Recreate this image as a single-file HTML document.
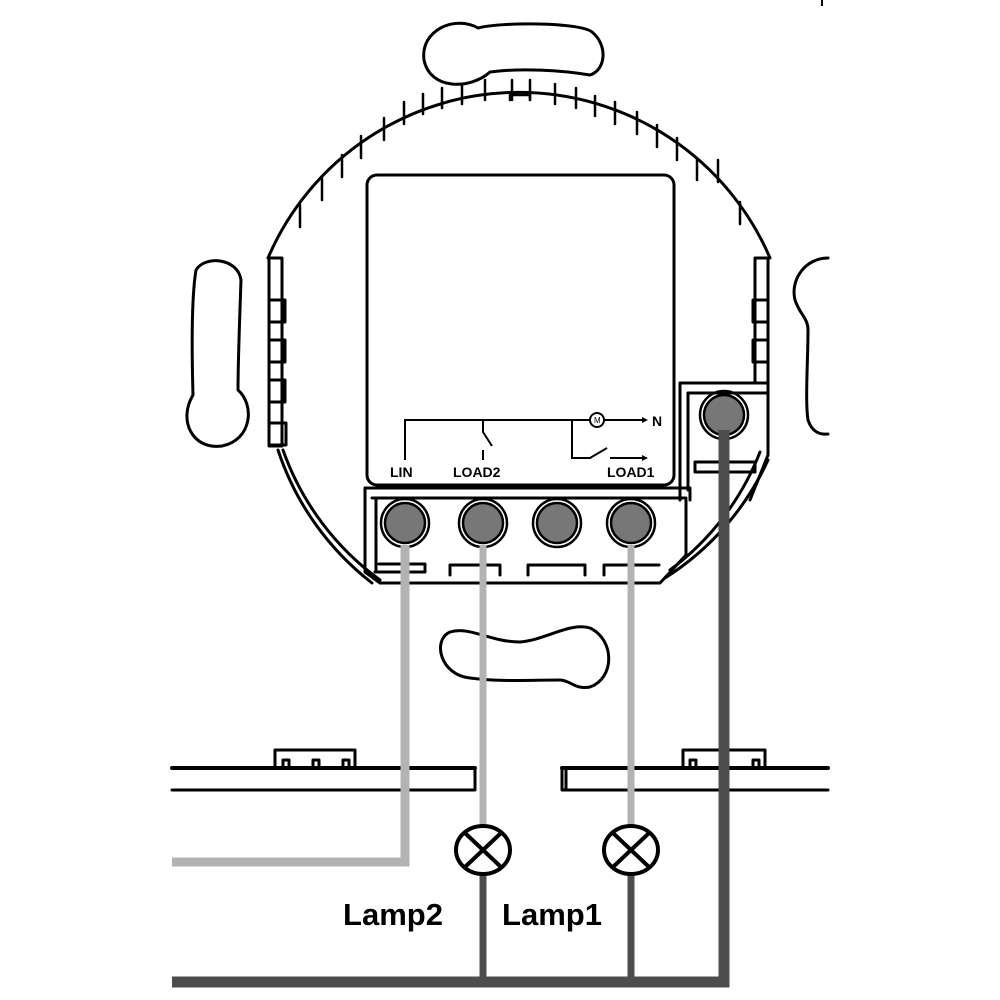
<!DOCTYPE html>
<html><head><meta charset="utf-8"><style>html,body{margin:0;padding:0;background:#fff}svg{display:block}</style></head>
<body>
<svg width="1000" height="1000" viewBox="0 0 1000 1000" xmlns="http://www.w3.org/2000/svg">
<g fill="none" stroke="#000" stroke-width="3" stroke-linejoin="round" stroke-linecap="round">
<!-- top slot -->
<path d="M478,28 C500,22 580,22 592,32 C608,45 606,70 590,75 C560,70 520,68 490,72 C470,90 430,90 424,60 C420,30 455,15 478,28 Z"/>
<!-- bottom slot -->
<path d="M520,642 C545,640 570,622 590,628 C615,640 615,678 590,687 C575,690 570,680 560,680 C530,680 500,682 470,678 C440,675 432,640 450,632 C470,626 490,642 520,642 Z"/>
<!-- left slot -->
<path d="M196,270 C205,255 238,258 241,280 C240,310 238,360 238,390 C255,405 252,440 222,446 C192,450 178,420 193,395 C192,360 191,300 196,270 Z"/>
<!-- right slot partial -->
<path d="M828,258 C805,258 790,280 795,300 C800,315 808,318 808,330 C808,360 805,400 808,420 C812,432 820,435 828,434"/>
<!-- circle arc -->
<path d="M268,258 A273,273 0 0 1 770,258"/>
<path d="M283,450 A273,273 0 0 0 380,580"/>
<path d="M278,450 A278,278 0 0 0 372,583"/>
<path d="M768,460 A273,273 0 0 1 665,578"/>
<path d="M760,452 A268,268 0 0 1 670,570"/>
<!-- teeth -->
<g stroke-width="2.5">
<path d="M300,205 l0,22 M322,178 l0,22 M342,155 l0,22 M361,136 l0,22 M384,118 l0,22 M404,102 l0,22 M423,94 l0,20 M442,88 l0,20 M462,84 l0,20 M485,80 l0,20 M512,80 l0,20 M530,80 l0,20 M555,84 l0,20 M576,88 l0,20 M595,96 l0,20 M615,102 l0,22 M637,112 l0,22 M657,125 l0,22 M677,138 l0,22 M697,158 l0,22 M718,160 l0,22 M740,202 l0,22"/>
<path d="M510,100 l0,-5 l20,0 l0,5"/>
</g>
<!-- side strips -->
<rect x="269" y="258" width="13" height="188"/>
<rect x="269" y="300" width="16" height="22"/><rect x="269" y="340" width="16" height="22"/><rect x="269" y="380" width="16" height="22"/><rect x="269" y="423" width="17" height="22"/>
<rect x="755" y="258" width="13" height="125"/>
<rect x="753" y="300" width="15" height="22"/><rect x="753" y="340" width="15" height="22"/>
<!-- inner module -->
<rect x="367" y="175" width="307" height="310" rx="10"/>
<!-- terminal block -->
<path d="M365,488 L690,488 L690,500 M365,488 L365,572 L380,583 L660,583 L686,555 L686,500 M372,498 L686,498 M376,498 L376,570"/>
<path d="M375,572 h50 v-8 h-46 M450,575 v-10 h50 v10 M528,575 v-10 h57 v10 M604,575 v-10 h55"/>
<!-- right block -->
<path d="M680,383 L768,383 L768,455 L750,500 M680,383 L680,500 M688,393 L768,393 M688,393 L688,490 M695,462 L755,462 L755,472 L695,472 Z"/>
<!-- plates -->
<g stroke-width="4"><path d="M172,768 L475,768 M562,768 L828,768"/></g>
<path d="M172,790 L475,790 L475,768 M562,768 L562,790 L828,790 M566,770 L566,790"/>
<path d="M275,768 v-18 h80 v18 M283,768 v-8 h6 v8 M313,768 v-8 h6 v8 M343,768 v-8 h6 v8"/>
<path d="M683,768 v-18 h82 v18 M690,768 v-8 h6 v8 M753,768 v-8 h6 v8"/>
</g>
<!-- terminals -->
<g stroke="#000" stroke-width="2.5">
<g fill="#777"><circle cx="405" cy="523" r="20"/><circle cx="483" cy="523" r="20"/><circle cx="557" cy="523" r="20"/><circle cx="631" cy="523" r="20"/><circle cx="724" cy="415" r="20"/></g>
<g fill="none"><circle cx="405" cy="523" r="24"/><circle cx="483" cy="523" r="24"/><circle cx="557" cy="523" r="24"/><circle cx="631" cy="523" r="24"/><circle cx="724" cy="415" r="24"/></g>
</g>
<!-- schematic -->
<g fill="none" stroke="#000" stroke-width="2">
<path d="M405,460 L405,420 L590,420 M604,420 L645,420 M483,420 L483,432 L492,446 M483,450 L483,460 M572,420 L572,458 L590,458 L607,448 M610,458 L645,458"/>
<circle cx="597" cy="420" r="7"/>
</g>
<path d="M648,420 l-6,-3 v6 z M648,458 l-6,-3 v6 z"/>
<g font-family="Liberation Sans, sans-serif" font-weight="bold" font-size="14">
<text x="390" y="477">LIN</text><text x="453" y="477">LOAD2</text><text x="607" y="477">LOAD1</text><text x="652" y="426">N</text><text x="594" y="423" font-size="8" font-weight="normal">M</text>
</g>
<!-- wires -->
<g fill="none" stroke-linejoin="miter">
<path d="M405,545 L405,862 L172,862" stroke="#b3b3b3" stroke-width="9"/>
<path d="M483,545 L483,828" stroke="#b3b3b3" stroke-width="7"/>
<path d="M631,545 L631,828" stroke="#b3b3b3" stroke-width="7"/>
<path d="M724,430 L724,982 L172,982" stroke="#4d4d4d" stroke-width="11"/>
<path d="M483,872 L483,982 M631,872 L631,982" stroke="#4d4d4d" stroke-width="7"/>
</g>
<!-- lamps -->
<g fill="#fff" stroke="#000" stroke-width="4">
<ellipse cx="483" cy="850" rx="27" ry="24"/><ellipse cx="631" cy="850" rx="27" ry="24"/>
<path d="M465,833 L501,867 M501,833 L465,867 M613,833 L649,867 M649,833 L613,867" fill="none"/>
</g>
<g font-family="Liberation Sans Narrow, Liberation Sans, sans-serif" font-weight="bold" font-size="31">
<text x="343" y="925" textLength="100" lengthAdjust="spacingAndGlyphs">Lamp2</text>
<text x="502" y="925" textLength="100" lengthAdjust="spacingAndGlyphs">Lamp1</text>
</g>
<path d="M822,0 L822,6" stroke="#000" stroke-width="2"/>
</svg>
</body></html>
